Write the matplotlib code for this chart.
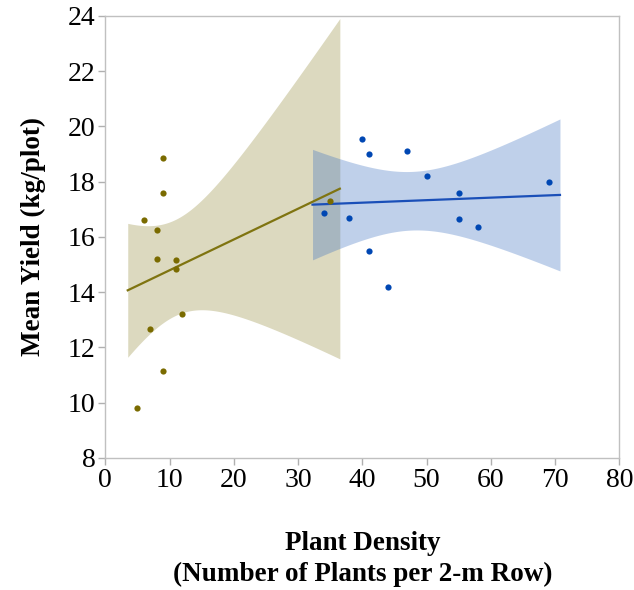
import numpy as np
import matplotlib
matplotlib.use("Agg")
import matplotlib.pyplot as plt

# Low-density group (olive)
low_x = [5, 6, 7, 8, 8, 9, 9, 9, 11, 11, 12, 35]
low_y = [9.8, 16.6, 12.65, 16.25, 15.2, 18.85, 17.6, 11.15, 15.15, 14.85, 13.2, 17.3]
# High-density group (blue)
high_x = [34, 38, 40, 41, 41, 44, 47, 50, 55, 55, 58, 69]
high_y = [16.85, 16.7, 19.55, 19.0, 15.5, 14.2, 19.1, 18.2, 17.6, 16.65, 16.35, 18.0]

x_ticks = [0, 10, 20, 30, 40, 50, 60, 70, 80]
y_ticks = [8, 10, 12, 14, 16, 18, 20, 22, 24]

T_975_DF10 = 2.228

plt.rcParams['font.family'] = ['Liberation Serif', 'DejaVu Serif']

fig = plt.figure(figsize=(6.34, 5.9), dpi=100)
ax = fig.add_axes([0.166, 0.224, 0.811, 0.749])


def fit_band(x, y, ext=0.05):
    x = np.asarray(x, float)
    y = np.asarray(y, float)
    n = len(x)
    b, a = np.polyfit(x, y, 1)
    resid = y - (a + b * x)
    s = np.sqrt(np.sum(resid ** 2) / (n - 2))
    sxx = np.sum((x - x.mean()) ** 2)
    r = x.max() - x.min()
    xs = np.linspace(x.min() - ext * r, x.max() + ext * r, 200)
    ys = a + b * xs
    se = s * np.sqrt(1.0 / n + (xs - x.mean()) ** 2 / sxx)
    return xs, ys, ys - T_975_DF10 * se, ys + T_975_DF10 * se


olive_pt = '#7a6b00'
olive_line = '#7f7410'
olive_band = '#dcd9bf'
blue_pt = '#0047b3'
blue_line = '#1a4fb8'
blue_band = '#3a6fc0'

xs, ys, lo, hi = fit_band(low_x, low_y)
ax.fill_between(xs, lo, hi, color=olive_band, lw=0, zorder=1)
ax.plot(xs, ys, color=olive_line, lw=1.6, zorder=3)

xs2, ys2, lo2, hi2 = fit_band(high_x, high_y)
ax.fill_between(xs2, lo2, hi2, color=blue_band, alpha=0.32, lw=0, zorder=2)
ax.plot(xs2, ys2, color=blue_line, lw=1.6, zorder=3)

ax.scatter(low_x, low_y, s=20, color=olive_pt, zorder=4, linewidths=0)
ax.scatter(high_x, high_y, s=20, color=blue_pt, zorder=4, linewidths=0)

ax.set_xlim(0, 80)
ax.set_ylim(8, 24)
ax.set_xticks(x_ticks)
ax.set_yticks(y_ticks)
ax.tick_params(axis='both', labelsize=20, color='#b0b0b0', length=5,
               width=1, direction='out', pad=2)
for sp in ax.spines.values():
    sp.set_color('#c0c0c0')
    sp.set_linewidth(1.0)

ax.set_xlabel('Plant Density\n(Number of Plants per 2-m Row)', fontsize=19.5,
              fontweight='bold', labelpad=28, linespacing=1.3)
ax.set_ylabel('Mean Yield (kg/plot)', fontsize=19.5, fontweight='bold', labelpad=16)

fig.savefig('out.png', dpi=100)
